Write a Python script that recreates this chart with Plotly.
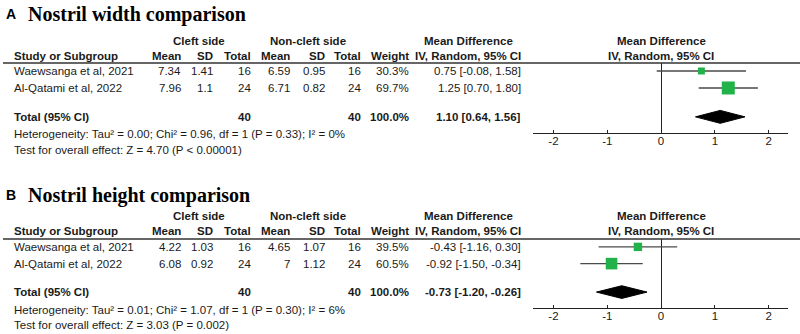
import plotly.graph_objects as go

W, H = 800, 334

# ---------------- data ----------------
studies = ["Waewsanga et al, 2021", "Al-Qatami et al, 2022"]

# Panel A: Nostril width
a_cleft_mean = [7.34, 7.96]
a_cleft_sd = [1.41, 1.1]
a_cleft_n = [16, 24]
a_non_mean = [6.59, 6.71]
a_non_sd = [0.95, 0.82]
a_non_n = [16, 24]
a_weight = [30.3, 69.7]
a_md = [0.75, 1.25]
a_lo = [-0.08, 0.70]
a_hi = [1.58, 1.80]
a_total = [1.10, 0.64, 1.56]
a_het = "Heterogeneity: Tau² = 0.00; Chi² = 0.96, df = 1 (P = 0.33); I² = 0%"
a_test = "Test for overall effect: Z = 4.70 (P < 0.00001)"

# Panel B: Nostril height
b_cleft_mean = [4.22, 6.08]
b_cleft_sd = [1.03, 0.92]
b_cleft_n = [16, 24]
b_non_mean = [4.65, 7]
b_non_sd = [1.07, 1.12]
b_non_n = [16, 24]
b_weight = [39.5, 60.5]
b_md = [-0.43, -0.92]
b_lo = [-1.16, -1.50]
b_hi = [0.30, -0.34]
b_total = [-0.73, -1.20, -0.26]
b_het = "Heterogeneity: Tau² = 0.01; Chi² = 1.07, df = 1 (P = 0.30); I² = 6%"
b_test = "Test for overall effect: Z = 3.03 (P = 0.002)"

tick_vals = [-2, -1, 0, 1, 2]
tick_text = ["-2", "-1", "0", "1", "2"]

row_pos = [1, 2]
total_pos = 3.7

# ---------------- helpers ----------------
def py(p):
    return 1 - p / H

def px(p):
    return p / W

FONT = "Liberation Sans"
FS = 11.5
GREEN = "#22b24a"
LINE = "#4a4a4a"

fig = go.Figure()
annotations = []
shapes = []

def title(letter, text, ymid):
    annotations.append(dict(text=f"<b>{letter}</b>", x=px(4), y=py(ymid), xref="paper", yref="paper",
                            xanchor="left", yanchor="middle", showarrow=False,
                            font=dict(family=FONT, size=14, color="black")))
    annotations.append(dict(text=f"<b>{text}</b>", x=px(26), y=py(ymid), xref="paper", yref="paper",
                            xanchor="left", yanchor="middle", showarrow=False,
                            font=dict(family="Liberation Serif", size=20, color="black")))

def table(yref, hdr1, hdr2, hline, cm, csd, cn, nm, nsd, nn, wt, md, lo, hi, tot, het, test, het_y, test_y):
    hf = dict(family=FONT, size=FS, color="#1a1a1a")
    def add(text, x, y, anchor, yr="paper", bold=False):
        annotations.append(dict(text=f"<b>{text}</b>" if bold else text, x=px(x), y=y, xref="paper", yref=yr,
                                xanchor=anchor, yanchor="middle", showarrow=False, font=hf))
    # header line 1
    add("Cleft side", 199, py(hdr1), "center", bold=True)
    add("Non-cleft side", 308, py(hdr1), "center", bold=True)
    add("Mean Difference", 468, py(hdr1), "center", bold=True)
    add("Mean Difference", 661, py(hdr1), "center", bold=True)
    # header line 2
    add("Study or Subgroup", 12, py(hdr2), "left", bold=True)
    rights = [183, 215, 253, 292, 327, 363, 411, 523]
    heads = ["Mean", "SD", "Total", "Mean", "SD", "Total", "Weight", "IV, Random, 95% CI"]
    for h, r in zip(heads, rights):
        add(h, r, py(hdr2), "right", bold=True)
    add("IV, Random, 95% CI", 661, py(hdr2), "center", bold=True)
    shapes.append(dict(type="line", xref="paper", yref="paper", x0=px(3), x1=1, y0=py(hline), y1=py(hline),
                       line=dict(color="#333333", width=1.3)))
    # rows
    for i, s in enumerate(studies):
        y = row_pos[i]
        add(s, 12, y, "left", yr=yref)
        vals = [f"{cm[i]}", f"{csd[i]}", f"{cn[i]}", f"{nm[i]}", f"{nsd[i]}", f"{nn[i]}", f"{wt[i]}%",
                f"{md[i]:.2f} [{lo[i]:.2f}, {hi[i]:.2f}]"]
        for v, r in zip(vals, rights):
            add(v, r, y, "right", yr=yref)
    add("Total (95% CI)", 12, total_pos, "left", yr=yref, bold=True)
    add(f"{sum(cn)}", rights[2], total_pos, "right", yr=yref, bold=True)
    add(f"{sum(nn)}", rights[5], total_pos, "right", yr=yref, bold=True)
    add(f"{sum(wt):.1f}%", rights[6], total_pos, "right", yr=yref, bold=True)
    add(f"{tot[0]:.2f} [{tot[1]:.2f}, {tot[2]:.2f}]", rights[7], total_pos, "right", yr=yref, bold=True)
    add(het, 12, py(het_y), "left")
    add(test, 12, py(test_y), "left")

def forest(xa, ya, md, lo, hi, wt, tot):
    sizes = [2.4 + 0.152 * w for w in wt]
    fig.add_trace(go.Scatter(
        x=md, y=row_pos, mode="markers", xaxis=xa, yaxis=ya, opacity=1,
        marker=dict(symbol="square", size=sizes, color=GREEN, opacity=1, line=dict(width=0)),
        error_x=dict(type="data", symmetric=False,
                     array=[h - m for h, m in zip(hi, md)],
                     arrayminus=[m - l for m, l in zip(md, lo)],
                     color=LINE, thickness=1.4, width=0),
        showlegend=False, hoverinfo="skip"))
    h = 0.38
    fig.add_trace(go.Scatter(
        x=[tot[1], tot[0], tot[2], tot[0], tot[1]],
        y=[total_pos, total_pos - h, total_pos, total_pos + h, total_pos],
        mode="lines", fill="toself", fillcolor="black", line=dict(color="black", width=1),
        xaxis=xa, yaxis=ya, showlegend=False, hoverinfo="skip"))

title("A", "Nostril width comparison", 14)
title("B", "Nostril height comparison", 195)

table("y", 41, 56, 63, a_cleft_mean, a_cleft_sd, a_cleft_n, a_non_mean, a_non_sd, a_non_n, a_weight,
      a_md, a_lo, a_hi, a_total, a_het, a_test, 134, 150)
table("y2", 216, 231, 239, b_cleft_mean, b_cleft_sd, b_cleft_n, b_non_mean, b_non_sd, b_non_n, b_weight,
      b_md, b_lo, b_hi, b_total, b_het, b_test, 310, 325)

forest("x", "y", a_md, a_lo, a_hi, a_weight, a_total)
forest("x2", "y2", b_md, b_lo, b_hi, b_weight, b_total)

XR = [-2.38, 2.36]
XD = [533 / W, 788 / W]
AX = "#222222"
xcommon = dict(range=XR, domain=XD, showgrid=False,
               zeroline=True, zerolinecolor=AX, zerolinewidth=1.3,
               showline=True, linecolor=AX, linewidth=1.3,
               ticks="inside", ticklen=3, tickwidth=1.3, tickcolor=AX,
               tickvals=tick_vals, ticktext=tick_text, ticklabelstandoff=-3,
               tickfont=dict(family=FONT, size=FS, color="#1a1a1a"), fixedrange=True)
# overlay axes giving the lower half of the crossing tick marks
xover = dict(range=XR, domain=XD, showgrid=False, zeroline=False, showline=False,
             ticks="outside", ticklen=3, tickwidth=1.3, tickcolor=AX,
             tickvals=tick_vals, showticklabels=False, fixedrange=True)
ycommon = dict(range=[4.65, 0.53], showgrid=False, zeroline=False, showticklabels=False,
               showline=False, ticks="", fixedrange=True)

fig.update_layout(
    width=W, height=H, margin=dict(l=0, r=0, t=0, b=0),
    paper_bgcolor="white", plot_bgcolor="white",
    xaxis=dict(**xcommon, anchor="y"),
    xaxis2=dict(**xcommon, anchor="y2"),
    xaxis3=dict(**xover, anchor="y", overlaying="x"),
    xaxis4=dict(**xover, anchor="y2", overlaying="x2"),
    yaxis=dict(**ycommon, domain=[py(133), py(63)], anchor="x"),
    yaxis2=dict(**ycommon, domain=[py(308), py(239)], anchor="x2"),
    annotations=annotations, shapes=shapes,
)

fig.write_html("out.html")
